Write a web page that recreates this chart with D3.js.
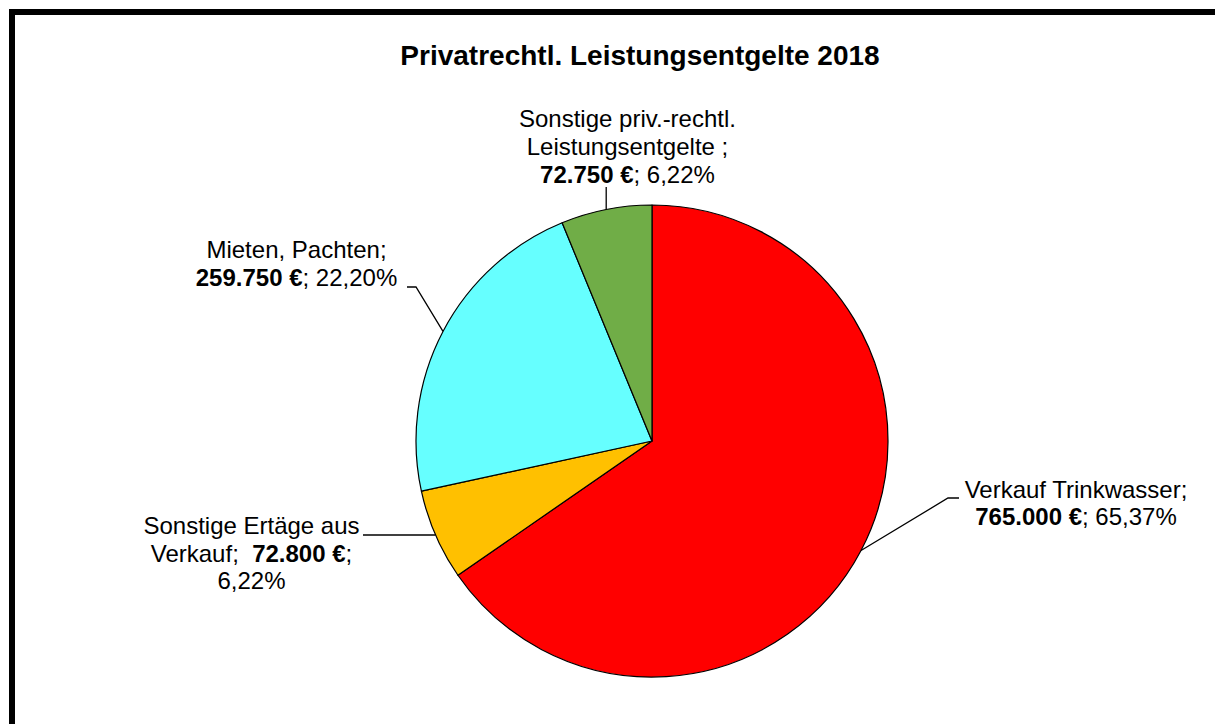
<!DOCTYPE html>
<html>
<head>
<meta charset="utf-8">
<script src="https://cdn.jsdelivr.net/npm/d3@7"></script>
<style>
  html, body { margin: 0; padding: 0; background: #fff; }
  svg { display: block; }
  text { font-family: "Liberation Sans", Arial, sans-serif; fill: #000; }
</style>
</head>
<body>
<svg id="chart" width="1215" height="724"></svg>
<script>
// ---- data ----
const title = "Privatrechtl. Leistungsentgelte 2018";
const categories = ["Verkauf Trinkwasser", "Sonstige Ertäge aus Verkauf", "Mieten, Pachten", "Sonstige priv.-rechtl. Leistungsentgelte"];
const values = [765000, 72800, 259750, 72750];
const colors = ["#FF0000", "#FFC000", "#66FFFF", "#70AD47"];

// ---- layout ----
const W = 1215, H = 724;
const cx = 652, cy = 441, R = 236;
const fontSize = 24, lineH = 27.7;

const svg = d3.select("#chart");

// frame
svg.append("rect")
  .attr("x", 12).attr("y", 12)
  .attr("width", 1230).attr("height", 740)
  .attr("fill", "#fff").attr("stroke", "#000").attr("stroke-width", 6);

// title
svg.append("text")
  .attr("x", 640).attr("y", 65)
  .attr("text-anchor", "middle")
  .style("font-size", "28px").style("font-weight", "bold")
  .text(title);

const total = d3.sum(values);
const fmtInt = d3.formatLocale({decimal: ",", thousands: ".", grouping: [3], currency: ["", ""]}).format(",d");
const fmtPct = v => d3.format(".2f")(v * 100).replace(".", ",") + "%";

const pie = d3.pie().sort(null).value(d => d)(values);
const arc = d3.arc().innerRadius(0).outerRadius(R);

const g = svg.append("g").attr("transform", `translate(${cx},${cy})`);
g.selectAll("path.slice")
  .data(pie)
  .join("path")
  .attr("class", "slice")
  .attr("d", arc)
  .attr("fill", (d, i) => colors[i])
  .attr("stroke", "#000")
  .attr("stroke-width", 1.2)
  .attr("stroke-linejoin", "round");

// label layout: lines as arrays of [text, bold] segments
// leader: elbow points; null coordinate = take from the slice anchor (keeps line straight)
const labelLayout = [
  { x: 1076, y: 497.5, leader: [[948, 498], [959, 498]],
    lines: i => [[[categories[i] + ";", false]], [[fmtInt(values[i]) + " €", true], ["; " + fmtPct(values[i] / total), false]]] },
  { x: 251.5, y: 534, leader: [[363, null]],
    lines: i => [[["Sonstige Ertäge aus", false]], [["Verkauf;  ", false], [fmtInt(values[i]) + " €", true], [";", false]], [[fmtPct(values[i] / total), false]]] },
  { x: 296.5, y: 258.3, leader: [[416, 287], [407, 287]],
    lines: i => [[[categories[i] + ";", false]], [[fmtInt(values[i]) + " €", true], ["; " + fmtPct(values[i] / total), false]]] },
  { x: 627.5, y: 127.3, leader: [[null, 187]],
    lines: i => [[["Sonstige priv.-rechtl.", false]], [["Leistungsentgelte ;", false]], [[fmtInt(values[i]) + " €", true], ["; " + fmtPct(values[i] / total), false]]] }
];

// leaders
pie.forEach((d, i) => {
  const a = (d.startAngle + d.endAngle) / 2;
  const start = [cx + R * Math.sin(a), cy - R * Math.cos(a)];
  const pts = [start].concat(labelLayout[i].leader.map(p => [p[0] == null ? start[0] : p[0], p[1] == null ? start[1] : p[1]]));
  svg.append("path")
    .attr("d", d3.line()(pts))
    .attr("fill", "none").attr("stroke", "#000").attr("stroke-width", 1.3);
});

// labels
labelLayout.forEach((L, i) => {
  const lines = L.lines(i);
  lines.forEach((segs, li) => {
    const t = svg.append("text")
      .attr("x", L.x).attr("y", L.y + li * lineH)
      .attr("text-anchor", "middle")
      .style("font-size", fontSize + "px")
      .attr("xml:space", "preserve")
      .style("white-space", "pre");
    segs.forEach(([txt, bold]) => {
      t.append("tspan").style("font-weight", bold ? "bold" : "normal").text(txt);
    });
  });
});
</script>
</body>
</html>
